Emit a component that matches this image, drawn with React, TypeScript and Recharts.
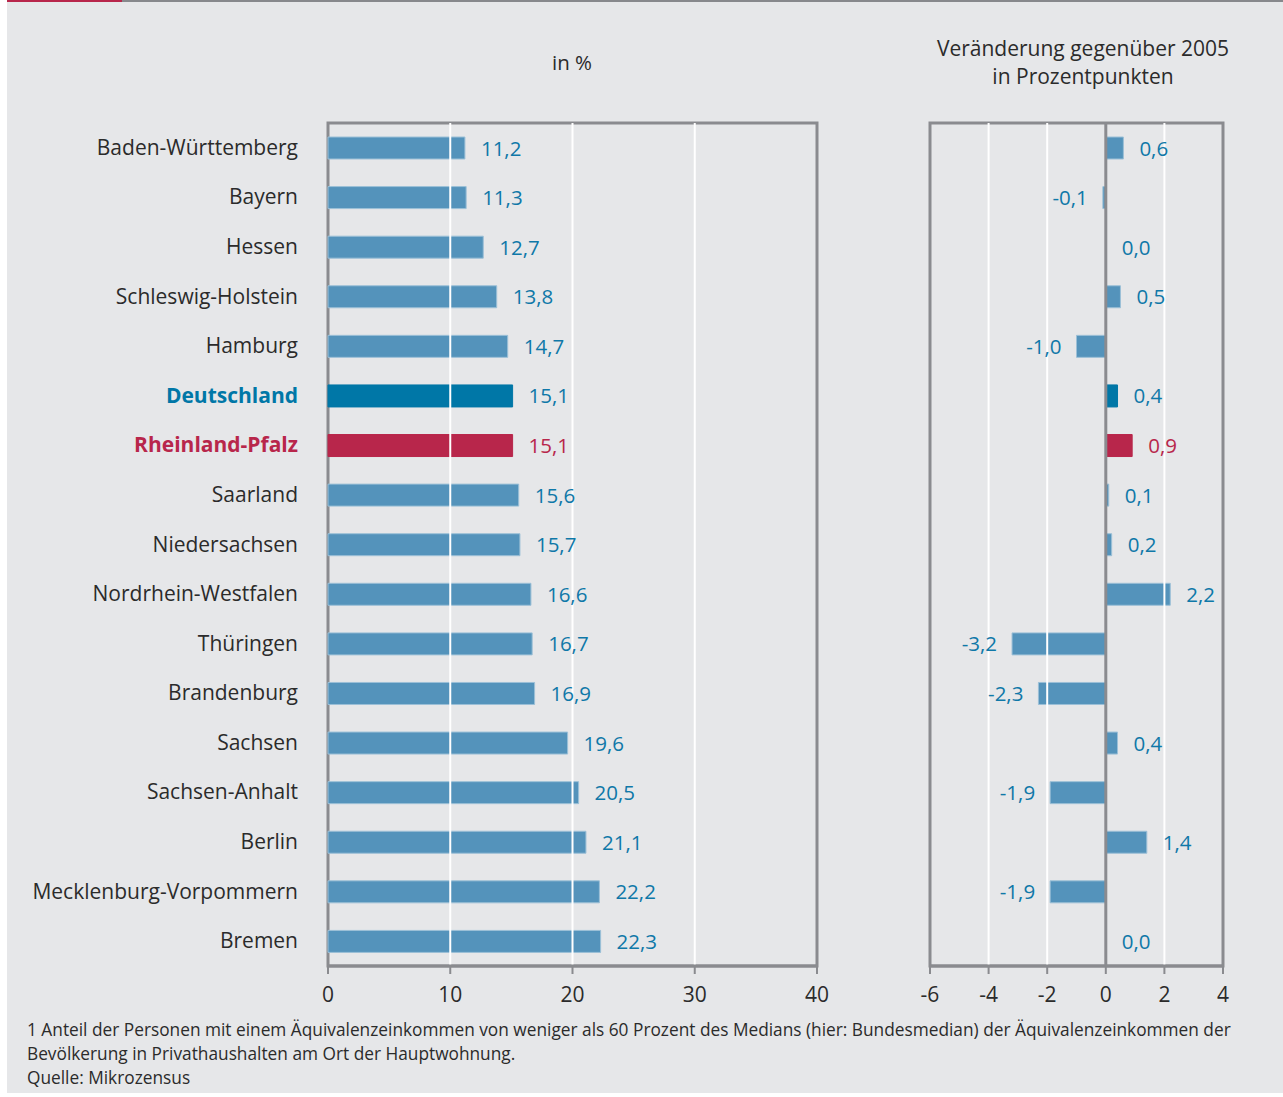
import React from 'react';
import { BarChart, Bar, XAxis, YAxis, Cell, LabelList, ReferenceLine, ReferenceArea } from 'recharts';

// Armutsgefährdungsquote nach Ländern
const states = [
  'Baden-Württemberg',
  'Bayern',
  'Hessen',
  'Schleswig-Holstein',
  'Hamburg',
  'Deutschland',
  'Rheinland-Pfalz',
  'Saarland',
  'Niedersachsen',
  'Nordrhein-Westfalen',
  'Thüringen',
  'Brandenburg',
  'Sachsen',
  'Sachsen-Anhalt',
  'Berlin',
  'Mecklenburg-Vorpommern',
  'Bremen',
];
const shares = [11.2, 11.3, 12.7, 13.8, 14.7, 15.1, 15.1, 15.6, 15.7, 16.6, 16.7, 16.9, 19.6, 20.5, 21.1, 22.2, 22.3];
const changes = [0.6, -0.1, 0.0, 0.5, -1.0, 0.4, 0.9, 0.1, 0.2, 2.2, -3.2, -2.3, 0.4, -1.9, 1.4, -1.9, 0.0];

const shareTicks = [0, 10, 20, 30, 40];
const shareGrid = [10, 20, 30];
const changeTicks = [-6, -4, -2, 0, 2, 4];
const changeGrid = [-4, -2, 2];

const FONT = '"Open Sans", sans-serif';
const BG = '#e6e7e9';
const FRAME = '#8a8b8f';
const BAR = '#5493bb';
const BAR_EDGE = '#9cc0d7';
const BLUE = '#0f78a8';
const DE = '#0077a7';
const RP = '#b8264b';

const barColor = (name: string) => (name === 'Deutschland' ? DE : name === 'Rheinland-Pfalz' ? RP : BAR);
const textColor = (name: string) => (name === 'Deutschland' ? DE : name === 'Rheinland-Pfalz' ? RP : '#2b2b2b');
const labelColor = (name: string) => (name === 'Rheinland-Pfalz' ? RP : BLUE);
const fmt = (v: number) => v.toFixed(1).replace('.', ',');

const rows = states.map((name, i) => ({ name, share: shares[i], change: changes[i] }));

const CategoryTick = (props: any) => {
  const { x, y, payload } = props;
  const name = payload.value as string;
  const bold = name === 'Deutschland' || name === 'Rheinland-Pfalz';
  return (
    <text
      x={x}
      y={y}
      dy={7}
      textAnchor="end"
      fontFamily={FONT}
      fontSize={21}
      fontWeight={bold ? 700 : 400}
      fill={textColor(name)}
    >
      {name}
    </text>
  );
};

// value of the label is "name|number" so colour and text never depend on the index
const ValueLabel = (props: any) => {
  const { x, y, width, height, value } = props;
  const [name, num] = String(value).split('|');
  const v = Number(num);
  const end = Number(x) + Number(width);
  const neg = v < 0;
  return (
    <text
      x={neg ? end - 15 : end + 16}
      y={Number(y) + Number(height) / 2}
      dy={7.5}
      textAnchor={neg ? 'end' : 'start'}
      fontFamily={FONT}
      fontSize={20.5}
      fill={labelColor(name)}
    >
      {fmt(v)}
    </text>
  );
};

const tickStyle = { fontFamily: FONT, fontSize: 21, fill: '#2b2b2b' };

export default function App() {
  return (
    <div style={{ position: 'absolute', left: 0, top: 0, width: 1283, height: 1097, background: '#fff', overflow: 'hidden' }}>
      <div style={{ position: 'absolute', left: 7, top: 0, width: 1276, height: 1093, background: BG }} />
      <div style={{ position: 'absolute', left: 7, top: 0, width: 115, height: 2, background: RP }} />
      <div style={{ position: 'absolute', left: 122, top: 0, width: 1161, height: 2, background: '#87888c' }} />

      <div style={{ position: 'absolute', left: 472, top: 48, width: 200, textAlign: 'center', fontFamily: FONT, fontSize: 20.5, color: '#2b2b2b' }}>
        in %
      </div>
      <div style={{ position: 'absolute', left: 893, top: 34, width: 380, textAlign: 'center', fontFamily: FONT, fontSize: 21, lineHeight: '28px', color: '#2b2b2b' }}>
        Veränderung gegenüber 2005
        <br />
        in Prozentpunkten
      </div>

      <div style={{ position: 'absolute', left: 0, top: 0 }}>
        <BarChart
          width={850}
          height={1012}
          data={rows}
          layout="vertical"
          margin={{ top: 123, right: 33, bottom: 6, left: 0 }}
          barSize={22}
        >
          <XAxis
            type="number"
            dataKey="share"
            domain={[0, 40]}
            ticks={shareTicks}
            tick={tickStyle}
            tickSize={8}
            tickMargin={13}
            height={40}
            axisLine={{ stroke: FRAME, strokeWidth: 3 }}
            tickLine={{ stroke: FRAME, strokeWidth: 2 }}
          />
          <YAxis
            type="category"
            dataKey="name"
            width={328}
            tick={<CategoryTick />}
            tickLine={false}
            axisLine={false}
            tickSize={6}
            tickMargin={24}
            interval={0}
          />
          <ReferenceArea x1={0} x2={40} fill="none" stroke={FRAME} strokeWidth={3} />
          <Bar dataKey="share" isAnimationActive={false} strokeWidth={1}>
            {rows.map((r) => (
              <Cell key={r.name} fill={barColor(r.name)} stroke={barColor(r.name) === BAR ? BAR_EDGE : barColor(r.name)} />
            ))}
            <LabelList dataKey={(d: any) => `${d.name}|${d.share}`} content={<ValueLabel />} />
          </Bar>
          {shareGrid.map((v) => (
            <ReferenceLine key={v} x={v} stroke="#ffffff" strokeWidth={2} />
          ))}
        </BarChart>
      </div>

      <div style={{ position: 'absolute', left: 880, top: 0 }}>
        <BarChart
          width={403}
          height={1012}
          data={rows}
          layout="vertical"
          margin={{ top: 123, right: 60, bottom: 6, left: 50 }}
          barSize={22}
        >
          <XAxis
            type="number"
            dataKey="change"
            domain={[-6, 4]}
            ticks={changeTicks}
            tick={tickStyle}
            tickSize={8}
            tickMargin={13}
            height={40}
            axisLine={{ stroke: FRAME, strokeWidth: 3 }}
            tickLine={{ stroke: FRAME, strokeWidth: 2 }}
          />
          <YAxis type="category" dataKey="name" hide />
          <ReferenceArea x1={-6} x2={4} fill="none" stroke={FRAME} strokeWidth={3} />
          <Bar dataKey="change" isAnimationActive={false} strokeWidth={1} minPointSize={0.01}>
            {rows.map((r) => (
              <Cell
                key={r.name}
                fill={barColor(r.name)}
                stroke={r.change === 0 ? 'none' : barColor(r.name) === BAR ? BAR_EDGE : barColor(r.name)}
              />
            ))}
            <LabelList dataKey={(d: any) => `${d.name}|${d.change}`} content={<ValueLabel />} />
          </Bar>
          {changeGrid.map((v) => (
            <ReferenceLine key={v} x={v} stroke="#ffffff" strokeWidth={2} />
          ))}
          <ReferenceLine x={0} stroke={FRAME} strokeWidth={3} />
        </BarChart>
      </div>

      <div style={{ position: 'absolute', left: 27, top: 1018, width: 1250, fontFamily: FONT, fontSize: 17.3, lineHeight: '24px', color: '#2b2b2b', whiteSpace: 'nowrap' }}>
        1 Anteil der Personen mit einem Äquivalenzeinkommen von weniger als 60 Prozent des Medians (hier: Bundesmedian) der Äquivalenzeinkommen der
        <br />
        Bevölkerung in Privathaushalten am Ort der Hauptwohnung.
        <br />
        Quelle: Mikrozensus
      </div>
    </div>
  );
}
